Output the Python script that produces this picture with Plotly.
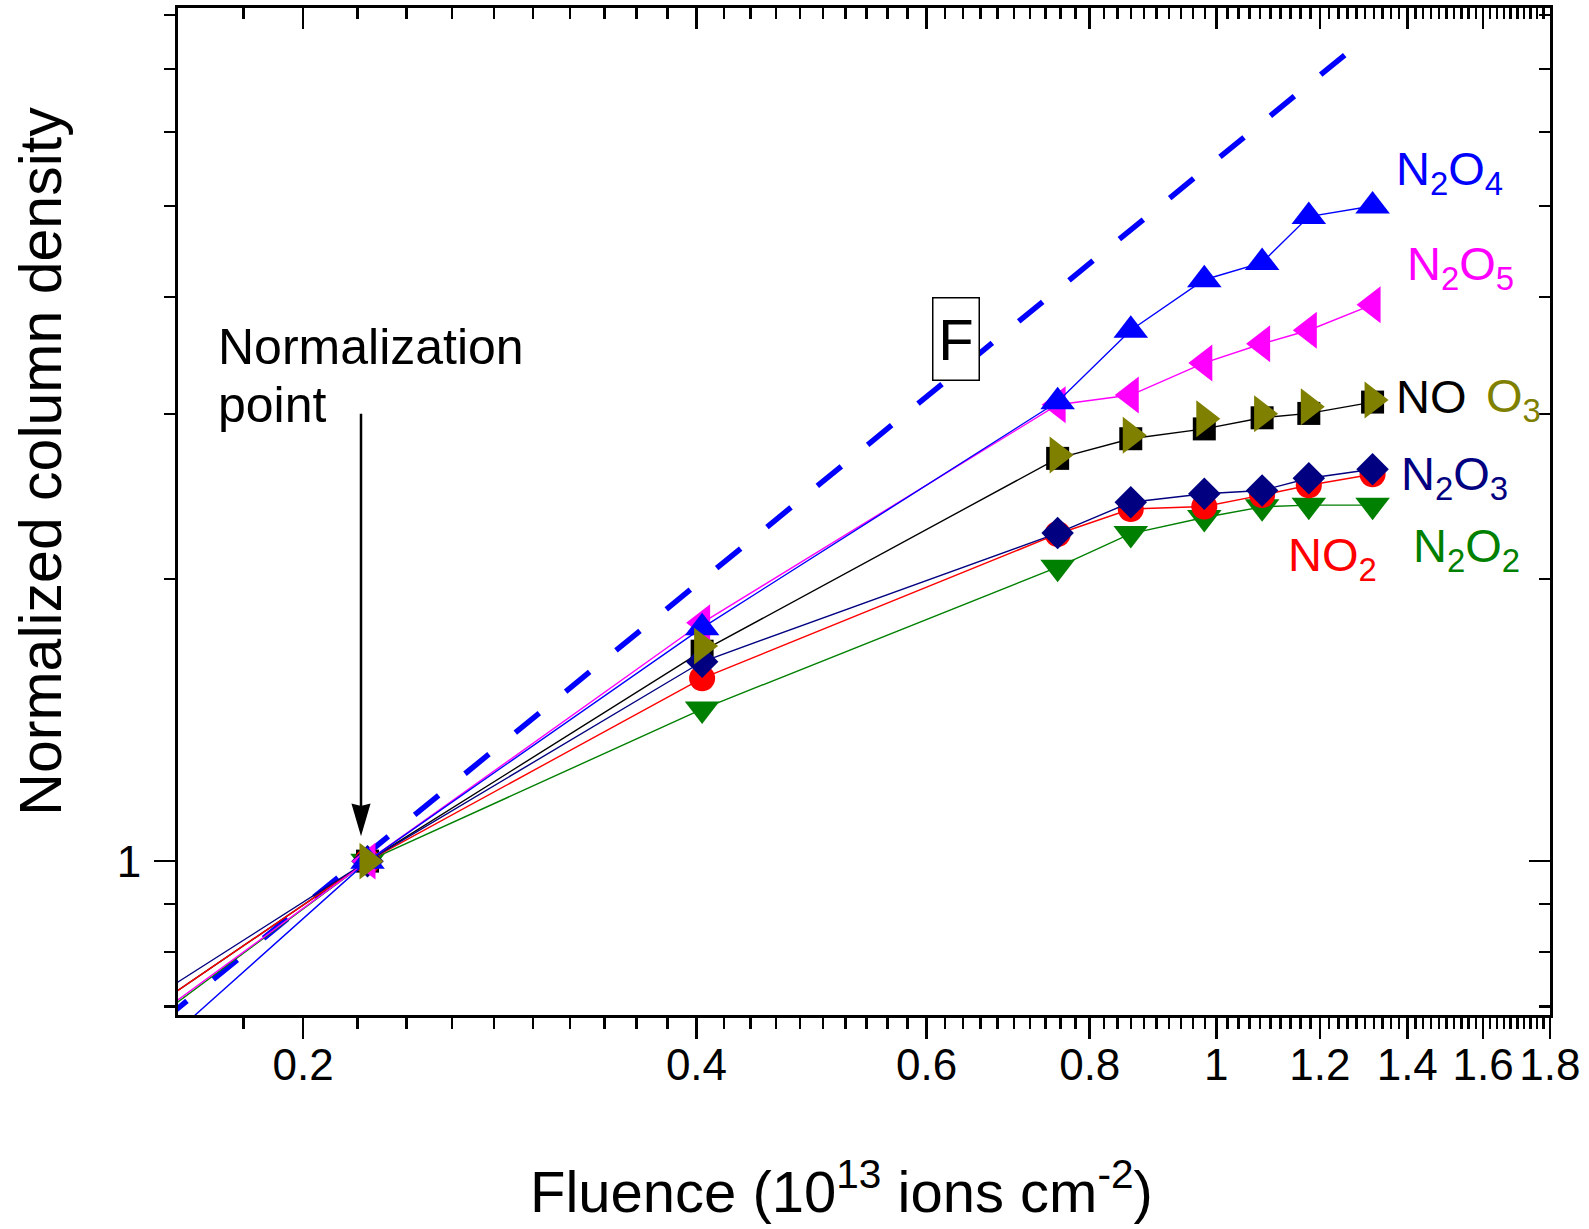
import math
import plotly.graph_objects as go

# ---------------- data ----------------
fluence = [0.15, 0.224, 0.404, 0.756, 0.86, 0.979, 1.084, 1.177, 1.317]

n2o4 = [0.607, 1.0, 1.774, 3.091, 3.685, 4.172, 4.352, 4.872, 5.00]
n2o5 = [0.664, 1.0, 1.796, 3.069, 3.143, 3.401, 3.565, 3.685, 3.924]
no = [0.683, 1.0, 1.675, 2.690, 2.823, 2.892, 2.972, 3.004, 3.089]
o3 = [None, 1.0, 1.696, 2.713, 2.847, 2.965, 3.002, 3.054, 3.104]
n2o3 = [0.700, 1.0, 1.632, 2.239, 2.415, 2.466, 2.486, 2.562, 2.619]
no2 = [0.683, 1.0, 1.567, 2.234, 2.375, 2.390, 2.458, 2.518, 2.587]
n2o2 = [0.660, 1.0, 1.453, 2.059, 2.236, 2.326, 2.388, 2.398, 2.398]

# dashed "F" reference line (end points)
f_x = [0.1562, 1.262]
f_y = [0.676, 7.30]

x_major = [0.2, 0.4, 0.6, 0.8, 1.0, 1.2, 1.4, 1.6, 1.8]
x_major_text = ["0.2", "0.4", "0.6", "0.8", "1", "1.2", "1.4", "1.6", "1.8"]
x_minor = [round(0.16 + 0.02 * i, 2) for i in range(83)]
x_minor = [v for v in x_minor if all(abs(v - m) > 1e-6 for m in x_major)]
y_major = [1]
y_major_text = ["1"]
y_minor = [0.7, 0.8, 0.9, 2, 3, 4, 5, 6, 7, 8]

x_range = [0.1604, 1.8005]
y_range = [0.6852, 8.134]

# ---------------- figure ----------------
W, H = 1589, 1229
X0, X1 = 178, 1550
Y0, Y1 = 5, 1015
FONT = "Arial, Liberation Sans, sans-serif"


def px(x):
    return (x - X0) / (X1 - X0)


def py(y):
    return (Y1 - y) / (Y1 - Y0)


xr = [math.log10(v) for v in x_range]
yr = [math.log10(v) for v in y_range]

fig = go.Figure()

fig.add_trace(go.Scatter(x=f_x, y=f_y, mode="lines",
                         line=dict(color="#0000FF", width=5.5, dash="31px,34px"),
                         showlegend=False, hoverinfo="skip"))

series = [
    ("N2O2", n2o2, "#008000", "triangle-down", 30, True),
    ("NO", no, "#000000", "square", 23, True),
    ("NO2", no2, "#FF0000", "circle", 26, True),
    ("N2O3", n2o3, "#000080", "diamond", 25, True),
    ("N2O5", n2o5, "#FF00FF", "triangle-left", 32, True),
    ("N2O4", n2o4, "#0000FF", "triangle-up", 30, True),
    ("O3", o3, "#808000", "triangle-right", 32, False),
]
for name, vals, col, sym, size, has_line in series:
    fig.add_trace(go.Scatter(
        x=fluence, y=vals, name=name,
        mode="lines+markers" if has_line else "markers",
        line=dict(color=col, width=1.4),
        marker=dict(symbol=sym, size=size, color=col, line=dict(width=0)),
        connectgaps=False, showlegend=False))

# dummy trace so the mirrored tick axes are drawn
fig.add_trace(go.Scatter(x=[fluence[1]], y=[n2o4[1]], xaxis="x2", yaxis="y2",
                         mode="markers", marker=dict(opacity=0),
                         showlegend=False, hoverinfo="skip"))

axis_common = dict(type="log", showgrid=False, zeroline=False,
                   tickcolor="black", tickwidth=2.5)

fig.update_layout(
    width=W, height=H,
    margin=dict(l=X0, r=W - X1, t=Y0, b=H - Y1, pad=0),
    paper_bgcolor="white", plot_bgcolor="white",
    font=dict(family=FONT, color="black"),
    xaxis=dict(**axis_common, range=xr, showline=True, linecolor="black",
               linewidth=3, mirror=True,
               tickmode="array", tickvals=x_major, ticktext=x_major_text,
               ticks="outside", ticklen=21,
               tickfont=dict(size=44, family=FONT),
               ticklabelstandoff=-12,
               minor=dict(tickmode="array", tickvals=x_minor, ticks="outside",
                          ticklen=11, tickwidth=2.5, tickcolor="black")),
    yaxis=dict(**axis_common, range=yr, showline=True, linecolor="black",
               linewidth=3, mirror=True,
               tickmode="array", tickvals=y_major, ticktext=y_major_text,
               ticks="outside", ticklen=21,
               tickfont=dict(size=44, family=FONT),
               ticklabelstandoff=4,
               minor=dict(tickmode="array", tickvals=y_minor, ticks="outside",
                          ticklen=11, tickwidth=2.5, tickcolor="black")),
    xaxis2=dict(**axis_common, range=xr, overlaying="x", side="top",
                anchor="y", showline=False, showticklabels=False,
                tickmode="array", tickvals=x_major, ticks="inside", ticklen=21,
                minor=dict(tickmode="array", tickvals=x_minor, ticks="inside",
                           ticklen=11, tickwidth=2.5, tickcolor="black")),
    yaxis2=dict(**axis_common, range=yr, overlaying="y", side="right",
                anchor="x", showline=False, showticklabels=False,
                tickmode="array", tickvals=y_major, ticks="inside", ticklen=21,
                minor=dict(tickmode="array", tickvals=y_minor, ticks="inside",
                           ticklen=11, tickwidth=2.5, tickcolor="black")),
)

ann = []
# axis titles
ann.append(dict(text="Fluence (10<sup>13</sup> ions cm<sup>-2</sup>)",
                x=px(841), y=py(1188), xref="paper", yref="paper",
                xanchor="center", yanchor="middle", showarrow=False,
                font=dict(size=58, family=FONT, color="black")))
ann.append(dict(text="Normalized column density", textangle=-90,
                x=px(41), y=py(460), xref="paper", yref="paper",
                xanchor="center", yanchor="middle", showarrow=False,
                font=dict(size=59, family=FONT, color="black")))

# species labels (left edge x, middle y in px)
labels = [
    ("N<sub>2</sub>O<sub>4</sub>", "#0000FF", 1394, 169),
    ("N<sub>2</sub>O<sub>5</sub>", "#FF00FF", 1405, 265),
    ("NO", "#000000", 1394, 395),
    ("O<sub>3</sub>", "#808000", 1484, 397),
    ("N<sub>2</sub>O<sub>3</sub>", "#000080", 1399, 475),
    ("NO<sub>2</sub>", "#FF0000", 1286, 557),
    ("N<sub>2</sub>O<sub>2</sub>", "#008000", 1411, 548),
]
for txt, col, lx, ly in labels:
    ann.append(dict(text=txt, x=px(lx), y=py(ly), xref="paper", yref="paper",
                    xanchor="left", yanchor="middle", showarrow=False,
                    font=dict(size=47, family=FONT, color=col)))

# normalization point text
ann.append(dict(text="Normalization",
                x=px(216), y=py(345), xref="paper", yref="paper",
                xanchor="left", yanchor="middle", showarrow=False,
                font=dict(size=50, family=FONT, color="black")))
ann.append(dict(text="point",
                x=px(216), y=py(403), xref="paper", yref="paper",
                xanchor="left", yanchor="middle", showarrow=False,
                font=dict(size=50, family=FONT, color="black")))

# F label in a box
ann.append(dict(text="F", x=px(955.5), y=py(337), xref="paper", yref="paper",
                xanchor="center", yanchor="middle", showarrow=False,
                width=43, height=79, bordercolor="black", borderwidth=1.5,
                borderpad=1, bgcolor="white",
                font=dict(size=58, family=FONT, color="black")))

fig.update_layout(annotations=ann)

# arrow pointing at the normalization point (shaft + solid head)
tip_x, tip_y, top_y, head_len, head_half = 361, 833, 412, 29, 8.5
fig.add_shape(type="line", xref="paper", yref="paper",
              x0=px(tip_x), y0=py(top_y), x1=px(tip_x), y1=py(tip_y - head_len + 6),
              line=dict(color="black", width=2.5))
fig.add_shape(type="path", xref="paper", yref="paper",
              path=(f"M {px(tip_x)},{py(tip_y)} "
                    f"L {px(tip_x - head_half)},{py(tip_y - head_len)} "
                    f"L {px(tip_x)},{py(tip_y - head_len + 2)} "
                    f"L {px(tip_x + head_half)},{py(tip_y - head_len)} Z"),
              fillcolor="black", line=dict(color="black", width=1.5))

fig.write_html("out.html",
               config={"displayModeBar": False, "staticPlot": True},
               post_script="document.body.style.margin='0';"
                           "document.body.style.overflow='hidden';")
